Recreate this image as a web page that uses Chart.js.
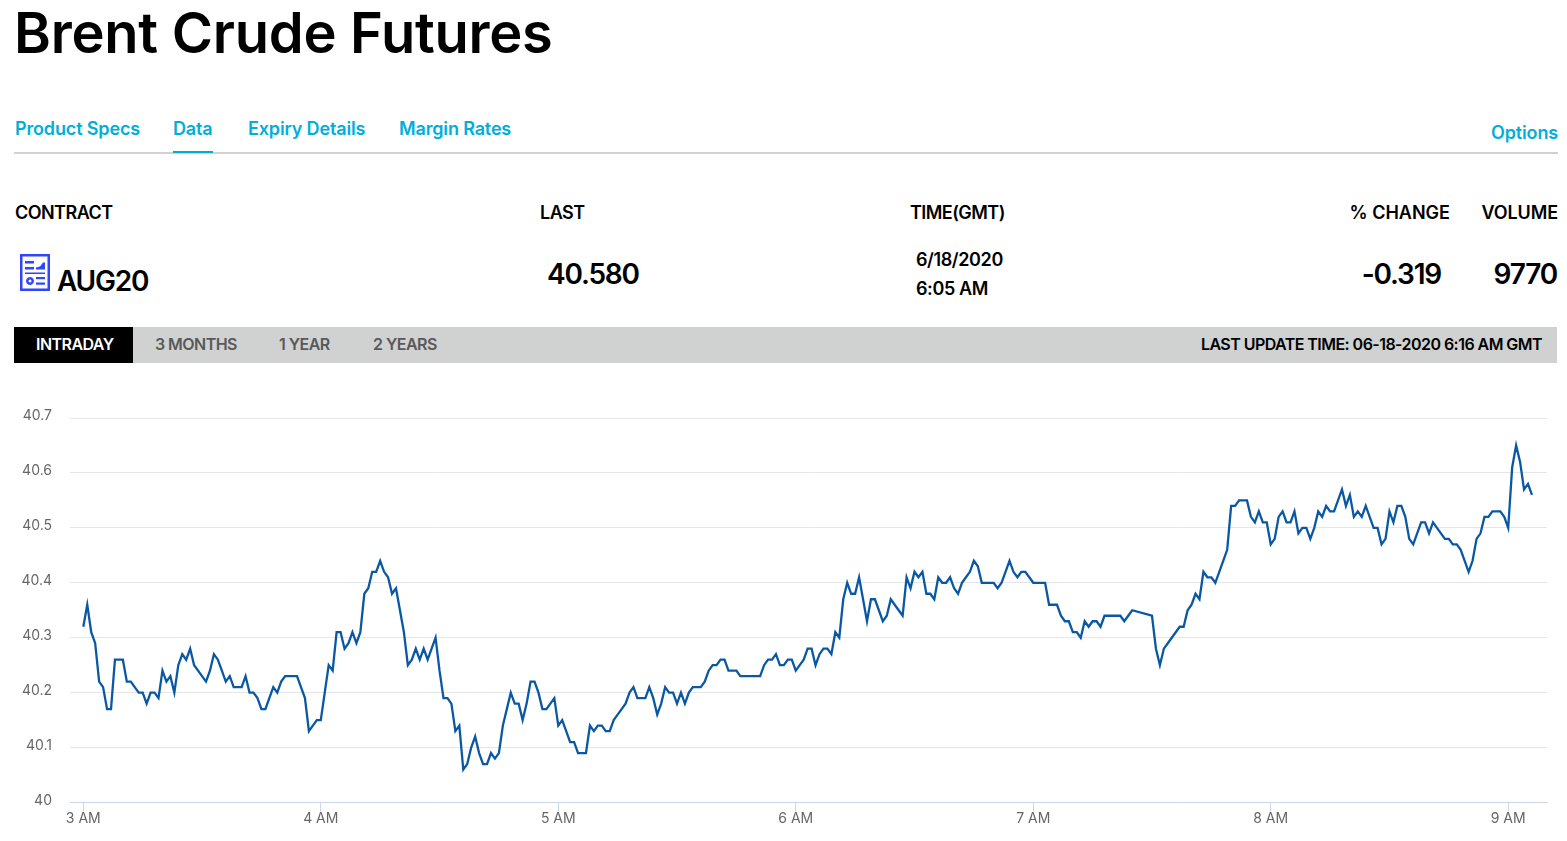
<!DOCTYPE html>
<html>
<head>
<meta charset="utf-8">
<title>Brent Crude Futures</title>
<script src="https://cdn.jsdelivr.net/npm/chart.js@4"></script>
<style>
  html, body { margin: 0; padding: 0; background: #fff; }
  body { width: 1567px; height: 841px; position: relative; overflow: hidden; font-family: Inter, "Liberation Sans", sans-serif; color: #000; }
  .t { position: absolute; white-space: nowrap; line-height: 1; }
  h1.t { margin: 0; left: 14px; top: 5px; font-size: 56px; font-weight: 600; letter-spacing: -0.25px; }
  .tab { top: 120px; font-size: 18px; font-weight: 600; color: #00aedb; letter-spacing: -0.15px; }
  .head { top: 204px; font-size: 18px; font-weight: 600; letter-spacing: -0.55px; }
  .val { font-size: 28px; font-weight: 600; letter-spacing: -1.2px; }
  .small { font-size: 18px; font-weight: 600; letter-spacing: -0.4px; }
  .range { top: 336px; font-size: 16px; font-weight: 600; color: #58595b; letter-spacing: -0.55px; }
  #rule { position: absolute; left: 14px; top: 152px; width: 1544px; height: 2px; background: #d0d1d1; }
  #active { position: absolute; left: 173px; top: 151px; width: 40px; height: 2px; background: #00aedb; }
  #band { position: absolute; left: 14px; top: 327px; width: 1543px; height: 36px; background: #d0d1d1; }
  #intraday { position: absolute; left: 14px; top: 327px; width: 119px; height: 36px; background: #000; }
  #icon { position: absolute; left: 20px; top: 254px; }
  #wrap { position: absolute; left: 0; top: 400px; width: 1567px; height: 441px; }
</style>
</head>
<body>
<h1 class="t">Brent Crude Futures</h1>
<div class="t tab" style="left:15px">Product Specs</div>
<div class="t tab" style="left:173px">Data</div>
<div class="t tab" style="left:248px">Expiry Details</div>
<div class="t tab" style="left:399px">Margin Rates</div>
<div class="t tab" style="right:9px;top:124px">Options</div>
<div id="rule"></div><div id="active"></div>

<div class="t head" style="left:15px">CONTRACT</div>
<div class="t head" style="left:540px">LAST</div>
<div class="t head" style="left:910px">TIME(GMT)</div>
<div class="t head" style="right:117px;letter-spacing:0">% CHANGE</div>
<div class="t head" style="right:9px;letter-spacing:-0.1px">VOLUME</div>

<svg id="icon" width="30" height="37" viewBox="0 0 30 37" fill="#2f45ff">
  <path fill-rule="evenodd" d="M0 0h30v37H0z M2.5 2.5v32h25v-32z"/>
  <rect x="5" y="7" width="9" height="2.5"/><rect x="5" y="13" width="9" height="2.5"/>
  <rect x="5" y="18.5" width="20" height="1.5"/>
  <path d="M16 15.5v-2l4-1 3-4h2v7z"/>
  <path fill-rule="evenodd" d="M10 23a4 4 0 1 0 0.01 0z M10 25.5a1.5 1.5 0 1 1-0.01 0z"/>
  <rect x="16" y="23" width="9" height="2.2"/><rect x="16" y="28.5" width="9" height="2.2"/>
</svg>
<div class="t val" style="left:57px;top:267px">AUG20</div>
<div class="t val" style="left:547px;top:260px">40.580</div>
<div class="t small" style="left:916px;top:251px">6/18/2020</div>
<div class="t small" style="left:916px;top:280px">6:05 AM</div>
<div class="t val" style="right:126px;top:260px">-0.319</div>
<div class="t val" style="right:10px;top:260px">9770</div>

<div id="band"></div><div id="intraday"></div>
<div class="t range" style="left:36px;color:#fff">INTRADAY</div>
<div class="t range" style="left:155px">3 MONTHS</div>
<div class="t range" style="left:279px">1 YEAR</div>
<div class="t range" style="left:373px">2 YEARS</div>
<div class="t range" style="right:25px;color:#000">LAST UPDATE TIME: 06-18-2020 6:16 AM GMT</div>

<div id="wrap"><canvas id="chart" width="1567" height="441"></canvas></div>

<script>
// Tick labels
const hourTicks = [0, 60, 120, 180, 240, 300, 360];
const hourLabels = ["3 AM", "4 AM", "5 AM", "6 AM", "7 AM", "8 AM", "9 AM"];
const priceTicks = [40, 40.1, 40.2, 40.3, 40.4, 40.5, 40.6, 40.7];

// One price per minute after 3 AM, null where the feed had no trade
const prices = [
  40.32, 40.36, 40.31, 40.29, 40.22, 40.21, 40.17, 40.17, 40.26, 40.26,
  40.26, 40.22, 40.22, 40.21, 40.20, 40.20, 40.18, 40.20, 40.20, 40.19,
  40.24, 40.22, 40.23, 40.20, 40.25, 40.27, 40.26, 40.28, 40.25, 40.24,
  40.23, 40.22, 40.24, 40.27, 40.26, 40.24, 40.22, 40.23, 40.21, 40.21,
  40.21, 40.23, 40.20, 40.20, 40.19, 40.17, 40.17, 40.19, 40.21, 40.20,
  40.22, 40.23, 40.23, 40.23, 40.23, 40.21, 40.19, 40.13, 40.14, 40.15,
  40.15, 40.20, 40.25, 40.24, 40.31, 40.31, 40.28, 40.29, 40.31, 40.29,
  40.31, 40.38, 40.39, 40.42, 40.42, 40.44, 40.42, 40.41, 40.38, 40.39,
  40.35, 40.31, 40.25, 40.26, 40.28, 40.26, 40.28, 40.26, 40.28, 40.30,
  40.24, 40.19, 40.19, 40.18, 40.13, 40.14, 40.06, 40.07, 40.10, 40.12,
  40.09, 40.07, 40.07, 40.09, 40.08, 40.09, 40.14, 40.17, 40.20, 40.18,
  40.18, 40.15, 40.18, 40.22, 40.22, 40.20, 40.17, 40.17, 40.18, 40.19,
  40.14, 40.15, 40.13, 40.11, 40.11, 40.09, 40.09, 40.09, 40.14, 40.13,
  40.14, 40.14, 40.13, 40.13, 40.15, 40.16, 40.17, 40.18, 40.20, 40.21,
  40.19, 40.19, 40.19, 40.21, 40.19, 40.16, 40.18, 40.21, 40.20, 40.20,
  40.18, 40.20, 40.18, 40.20, 40.21, 40.21, 40.21, 40.22, 40.24, 40.25,
  40.25, 40.26, 40.26, 40.24, 40.24, 40.24, 40.23, 40.23, 40.23, 40.23,
  40.23, 40.23, 40.25, 40.26, 40.26, 40.27, 40.25, 40.25, 40.26, 40.26,
  40.24, 40.25, 40.26, 40.28, 40.28, 40.25, 40.27, 40.28, 40.28, 40.27,
  40.31, 40.30, 40.37, 40.40, 40.38, 40.38, 40.41, 40.37, 40.33, 40.37,
  40.37, 40.35, 40.33, 40.34, 40.37, 40.36, 40.35, 40.34, 40.41, 40.39,
  40.42, 40.41, 40.42, 40.38, 40.38, 40.37, 40.41, 40.40, 40.40, 40.41,
  40.39, 40.38, 40.40, 40.41, 40.42, 40.44, 40.43, 40.40, 40.40, 40.40,
  40.40, 40.39, 40.40, 40.42, 40.44, 40.42, 40.41, 40.42, 40.42, 40.41,
  40.40, 40.40, 40.40, 40.40, 40.36, 40.36, 40.36, 40.34, 40.33, 40.33,
  40.31, 40.31, 40.30, 40.33, 40.32, 40.33, 40.33, 40.32, 40.34, 40.34,
  40.34, 40.34, 40.34, 40.33, 40.34, 40.35, null, null, null, null,
  40.34, 40.28, 40.25, 40.28, 40.29, 40.30, 40.31, 40.32, 40.32, 40.35,
  40.36, 40.38, 40.37, 40.42, 40.41, 40.41, 40.40, 40.42, 40.44, 40.46,
  40.54, 40.54, 40.55, 40.55, 40.55, 40.52, 40.51, 40.53, 40.51, 40.51,
  40.47, 40.48, 40.52, 40.53, 40.51, 40.51, 40.53, 40.49, 40.50, 40.50,
  40.48, 40.50, 40.53, 40.52, 40.54, 40.53, 40.53, 40.55, 40.57, 40.54,
  40.56, 40.52, 40.53, 40.52, 40.54, 40.52, 40.50, 40.50, 40.47, 40.48,
  40.53, 40.51, 40.54, 40.54, 40.52, 40.48, 40.47, 40.49, 40.51, 40.51,
  40.49, 40.51, 40.50, 40.49, 40.48, 40.48, 40.47, 40.47, 40.46, 40.44,
  40.42, 40.44, 40.48, 40.49, 40.52, 40.52, 40.53, 40.53, 40.53, 40.52,
  40.50, 40.61, 40.65, 40.62, 40.57, 40.58, 40.56,
];

const labelFont = { family: "Inter, 'Liberation Sans', sans-serif", size: 14 };

new Chart(document.getElementById("chart"), {
  type: "line",
  data: {
    datasets: [{
      data: prices.map((p, i) => ({ x: i, y: p })),
      borderColor: "#0a58a4",
      borderWidth: 2.3,
      pointRadius: 0,
      tension: 0,
      spanGaps: true,
    }],
  },
  options: {
    responsive: false,
    animation: false,
    layout: { autoPadding: false, padding: { top: 18, right: 20, left: 0, bottom: 0 } },
    plugins: { legend: { display: false }, tooltip: { enabled: false } },
    scales: {
      x: {
        type: "linear",
        min: -3.36,
        max: 369.8,
        afterBuildTicks: (scale) => { scale.ticks = hourTicks.map((v) => ({ value: v })); },
        afterFit: (scale) => { scale.height = 38.5; },
        grid: { drawOnChartArea: false, drawTicks: true, tickLength: 9, tickColor: "#ccd6eb", lineWidth: 1 },
        border: { color: "#ccd6eb" },
        ticks: {
          color: "#666666",
          font: labelFont,
          padding: -1,
          maxRotation: 0,
          autoSkip: false,
          callback: (v) => hourLabels[hourTicks.indexOf(v)],
        },
      },
      y: {
        min: 40,
        max: 40.7,
        afterBuildTicks: (scale) => { scale.ticks = priceTicks.map((v) => ({ value: v })); },
        afterFit: (scale) => { scale.width = 70; },
        // a big ticks.padding would inset the scale, so the gap is an invisible tick mark
        grid: { color: "#e6e6e6", drawTicks: true, tickLength: 18, tickColor: "rgba(0,0,0,0)", lineWidth: 1 },
        border: { display: false },
        ticks: {
          color: "#666666",
          font: labelFont,
          padding: 0,
          labelOffset: -2,
          callback: (v) => String(v),
        },
      },
    },
  },
});
</script>
</body>
</html>
